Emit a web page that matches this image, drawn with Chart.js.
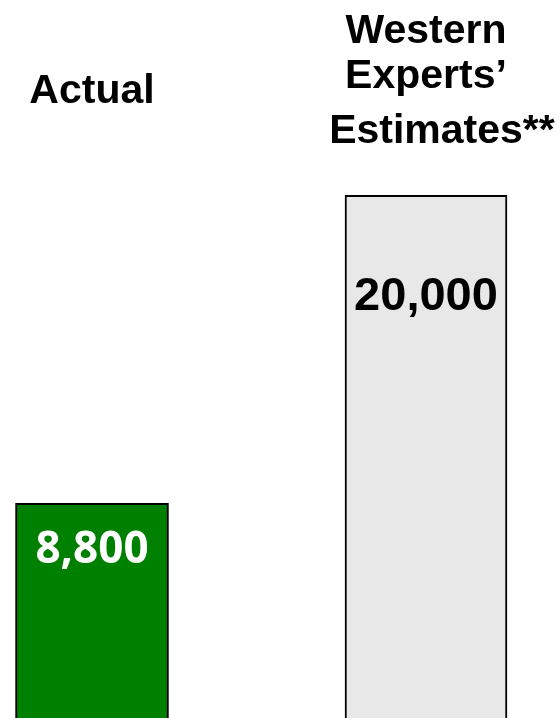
<!DOCTYPE html>
<html>
<head>
<meta charset="utf-8">
<script src="https://cdn.jsdelivr.net/npm/chart.js@4/dist/chart.umd.min.js"></script>
<style>
  html, body { margin: 0; padding: 0; background: #fff; overflow: hidden; }
  #wrap { position: relative; width: 560px; height: 718px; }
</style>
</head>
<body>
<div id="wrap"><canvas id="chart"></canvas></div>
<script>
// Categories and their header lines
const categories = ['Actual', 'Western Experts’ Estimates**'];
const headerLines = [['Actual'], ['Western', 'Experts’', 'Estimates**']];
// Values for each category
const values = [8800, 20000];

// Per-bar styling
const barFills = ['#008000', '#e8e8e8'];
const barWidths = [153, 162];
const valueColors = ['#ffffff', '#000000'];
const valueFonts = ['bold 44px "Open Sans"', 'bold 47px "Liberation Sans"'];
const valueOffsets = [47, 102];

const datasets = values.map((v, i) => ({
  label: categories[i],
  data: values.map((_, j) => (j === i ? v : null)),
  backgroundColor: barFills[i],
  borderColor: '#000000',
  borderWidth: 2,
  borderSkipped: 'start',
  barThickness: barWidths[i],
  grouped: false,
  clip: false
}));

// Header text above each bar and the value inside it
const labelsPlugin = {
  id: 'barLabels',
  afterDatasetsDraw(chart) {
    const ctx = chart.ctx;
    const xScale = chart.scales.x;
    ctx.save();
    ctx.textBaseline = 'alphabetic';
    ctx.fillStyle = '#000';
    ctx.font = 'bold 41px "Liberation Sans", Arial, sans-serif';
    const baselines = [[103], [43, 88, 143]];
    headerLines.forEach((lines, i) => {
      const cx = xScale.getPixelForValue(i);
      lines.forEach((line, k) => {
        // footnote asterisks hang past the centred word
        const core = line.replace(/\*+$/, '');
        const w = ctx.measureText(core).width;
        ctx.textAlign = 'left';
        ctx.fillText(line, cx - w / 2, baselines[i][k]);
      });
    });

    ctx.textAlign = 'center';
    ctx.textBaseline = 'middle';
    chart.data.datasets.forEach((ds, i) => {
      const el = chart.getDatasetMeta(i).data[i];
      ctx.font = valueFonts[i];
      ctx.fillStyle = valueColors[i];
      ctx.fillText(values[i].toLocaleString('en-US'), el.x, el.y + valueOffsets[i]);
    });
    ctx.restore();
  }
};

new Chart(document.getElementById('chart'), {
  type: 'bar',
  data: { labels: categories, datasets },
  options: {
    responsive: true,
    maintainAspectRatio: false,
    animation: false,
    layout: { padding: { left: 92, right: 134, top: 0, bottom: 0 } },
    plugins: { legend: { display: false }, tooltip: { enabled: false } },
    scales: {
      x: { display: false, offset: false },
      y: { display: false, min: 1000, max: 27100 }
    }
  },
  plugins: [labelsPlugin]
});
</script>
</body>
</html>
